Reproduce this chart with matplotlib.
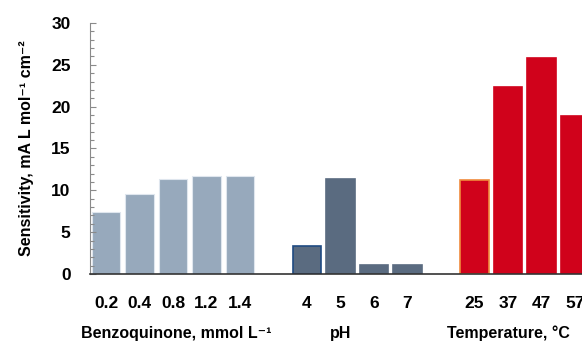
import numpy as np
import matplotlib
matplotlib.use('Agg')
import matplotlib.pyplot as plt
from matplotlib.ticker import MultipleLocator
from matplotlib.transforms import blended_transform_factory

plt.rcParams['font.family'] = ['Liberation Sans', 'DejaVu Sans']

# data
bq_labels = ['0.2', '0.4', '0.8', '1.2', '1.4']
bq_values = [7.4, 9.6, 11.3, 11.7, 11.7]
ph_labels = ['4', '5', '6', '7']
ph_values = [3.4, 11.3, 1.1, 1.1]
temp_labels = ['25', '37', '47', '57']
temp_values = [11.2, 22.4, 25.8, 18.9]

# slot positions of each group (one empty slot between groups)
bq_x = np.arange(0, 5)
ph_x = np.arange(6, 10)
temp_x = np.arange(11, 15)

fig = plt.figure(figsize=(5.82, 3.47), dpi=100)
ax = fig.add_axes([0.1546, 0.2104, 0.8454, 0.7233])

w = 0.84
ax.bar(bq_x, bq_values, w, color='#97a9bc', edgecolor='#dfe6ee', linewidth=0.8)
ph_edges = ['#1f4a82', '#5a6b80', '#5a6b80', '#5a6b80']
ax.bar(ph_x, ph_values, w, color='#5a6b80', edgecolor=ph_edges, linewidth=1.2)
temp_edges = ['#f08a3c', '#d0021b', '#d0021b', '#d0021b']
ax.bar(temp_x, temp_values, w, color='#d0021b', edgecolor=temp_edges, linewidth=1.2)

ax.set_xlim(-0.48, 14.21)
ax.set_ylim(0, 30)

ax.set_xticks(list(bq_x) + list(ph_x) + list(temp_x))
ax.set_xticklabels(bq_labels + ph_labels + temp_labels)
ax.tick_params(axis='x', length=0, pad=16, labelsize=12.5)
for t in ax.get_xticklabels():
    t.set_fontweight('bold')

ax.yaxis.set_major_locator(MultipleLocator(5))
ax.yaxis.set_minor_locator(MultipleLocator(1))
ax.tick_params(axis='y', which='both', direction='in', color='#8a8a8a', width=0.8)
ax.tick_params(axis='y', which='major', length=4, pad=14, labelsize=12.5)
ax.tick_params(axis='y', which='minor', length=3)
for t in ax.get_yticklabels():
    t.set_fontweight('bold')

ax.spines['top'].set_visible(False)
ax.spines['right'].set_visible(False)
ax.spines['left'].set_color('#8a8a8a')
ax.spines['left'].set_linewidth(0.8)
ax.spines['bottom'].set_color('#333333')
ax.spines['bottom'].set_linewidth(1.2)

ax.set_ylabel('Sensitivity, mA L mol⁻¹ cm⁻²', fontsize=11.5, fontweight='bold')
ax.yaxis.set_label_coords(-0.113, 0.5)

tr = blended_transform_factory(ax.transData, fig.transFigure)
ax.text(2.1, 0.040, 'Benzoquinone, mmol L⁻¹', transform=tr, ha='center',
        va='center', fontsize=11.5, fontweight='bold')
ax.text(7.0, 0.040, 'pH', transform=tr, ha='center', va='center',
        fontsize=11.5, fontweight='bold')
ax.text(12.0, 0.040, 'Temperature, °C', transform=tr, ha='center',
        va='center', fontsize=11.5, fontweight='bold')

fig.savefig('out.png', dpi=100)
